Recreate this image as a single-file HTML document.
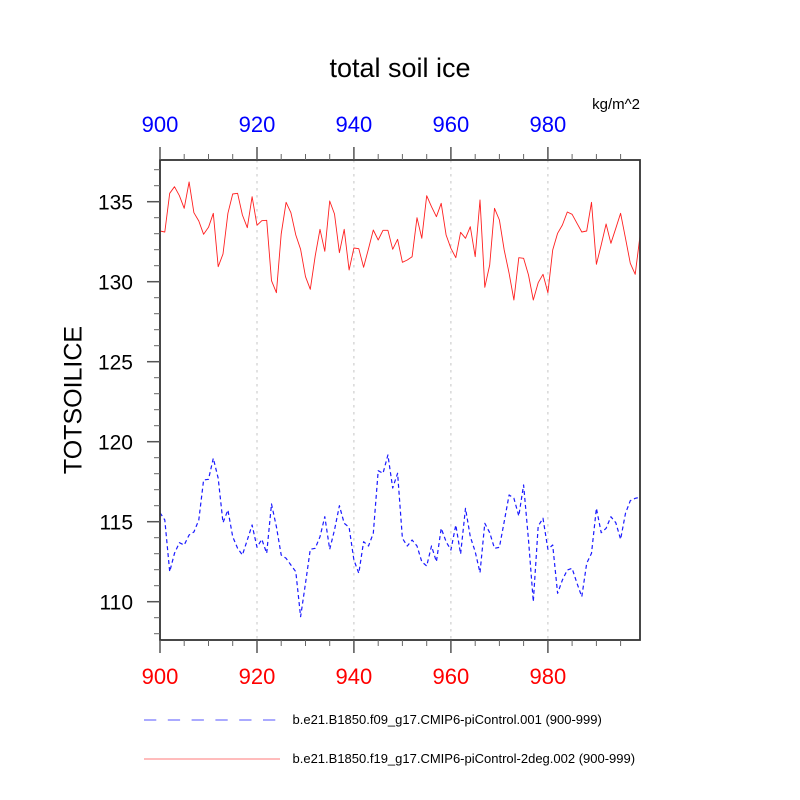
<!DOCTYPE html>
<html>
<head>
<meta charset="utf-8">
<style>
  html, body { margin: 0; padding: 0; background: #fff; }
  svg { display: block; }
  text { font-family: "Liberation Sans", sans-serif; }
</style>
</head>
<body>
<svg width="800" height="800" viewBox="0 0 800 800" xmlns="http://www.w3.org/2000/svg">
  <rect x="0" y="0" width="800" height="800" fill="#fff"/>

  <!-- Title -->
  <text x="400" y="77" font-size="27" text-anchor="middle" fill="#000">total soil ice</text>
  <text x="640" y="109" font-size="15" text-anchor="end" fill="#000">kg/m^2</text>

  <!-- Grid lines -->
  <g stroke="#c4c4c4" stroke-width="1" stroke-dasharray="2.5 4.5">
    <line x1="257" y1="160" x2="257" y2="640"/>
    <line x1="353.9" y1="160" x2="353.9" y2="640"/>
    <line x1="450.9" y1="160" x2="450.9" y2="640"/>
    <line x1="547.9" y1="160" x2="547.9" y2="640"/>
  </g>

  <!-- Red series -->
  <polyline fill="none" stroke="#ff2020" stroke-width="0.9" stroke-linejoin="round" points="
160,231 164.8,232 169.7,193.3 174.5,186.7 179.4,195.7 184.2,208.3 189.1,182 193.9,212.7 198.8,221 203.6,234.3
208.5,227.3 213.3,213.3 218.2,266.7 223,254 227.9,213.3 232.7,194 237.6,193.3 242.4,215 247.3,227.7 252.1,196.7
257,225.3 261.8,220.7 266.7,220.3 271.5,280.7 276.4,292.7 281.2,234 286.1,202.3 290.9,212.7 295.8,235 300.6,249.3
305.5,276.7 310.3,289.3 315.2,256 320,229.3 324.8,251.3 329.7,201 334.5,214 339.4,252.7 344.2,229.3 349.1,270
353.9,248 358.8,248.7 363.6,267.3 368.5,248.7 373.3,230 378.2,240 383,230.3 387.9,230.3 392.7,249.3 397.6,239.3
402.4,262.3 407.3,260 412.1,256.7 417,217.7 421.8,238.3 426.7,195.7 431.5,206.7 436.4,216.7 441.2,203.3 446.1,235
450.9,248.3 455.8,257.7 460.6,232.3 465.5,238.3 470.3,226.7 475.2,256.7 480,200 484.8,287.3 489.7,265 494.5,208.3
499.4,220 504.2,250 509.1,273.3 513.9,300 518.8,257.7 523.6,258.3 528.5,275 533.3,300 538.2,282.7 543,274.3
547.9,292.7 552.7,250 557.6,233.3 562.4,225 567.3,212 572.1,214.3 577,223.3 581.8,232 586.7,231 591.5,202.3
596.4,264.3 601.2,245 606.1,224 610.9,243.3 615.8,228.3 620.6,213.3 625.5,238.3 630.3,263.3 635.2,274.3 640,236"/>

  <!-- Blue series -->
  <polyline fill="none" stroke="#1a1aff" stroke-width="1.2" stroke-dasharray="4 3" stroke-linejoin="round" points="
160,512.7 164.8,520 169.7,571.7 174.5,553.3 179.4,542.7 184.2,545 189.1,535 193.9,532 198.8,520 203.6,480
208.5,479.3 213.3,458.3 218.2,478.3 223,522.7 227.9,510 232.7,536.7 237.6,548.3 242.4,555 247.3,540 252.1,525
257,547.3 261.8,539.3 266.7,553.3 271.5,504 276.4,526.7 281.2,555 286.1,558.3 290.9,565 295.8,571.7 300.6,616.7
305.5,583.3 310.3,549.3 315.2,548.3 320,536.7 324.8,516.7 329.7,549.3 334.5,530 339.4,505.7 344.2,523.3 349.1,527.3
353.9,560 358.8,573.3 363.6,541.7 368.5,546 373.3,533.3 378.2,470.7 383,473.3 387.9,455 392.7,488 397.6,473.3
402.4,538.3 407.3,546 412.1,540 417,546 421.8,561.7 426.7,566 431.5,546 436.4,561.7 441.2,528.3 446.1,541.7
450.9,550 455.8,525 460.6,554 465.5,508.3 470.3,536.7 475.2,551.7 480,572.7 484.8,523.3 489.7,532.7 494.5,548.3
499.4,547.3 504.2,521.7 509.1,495 513.9,498.3 518.8,516 523.6,485 528.5,540 533.3,601.7 538.2,526 543,518.3
547.9,549.3 552.7,545 557.6,593.3 562.4,580 567.3,570 572.1,568.3 577,583.3 581.8,596.7 586.7,563.3 591.5,553.3
596.4,508.3 601.2,532.7 606.1,528.3 610.9,516.7 615.8,522.7 620.6,539.3 625.5,513.3 630.3,500.7 635.2,498.3 640,497.3"/>

  <!-- Axes frame -->
  <rect x="160" y="160" width="480" height="480" fill="none" stroke="#333" stroke-width="1.8"/>

  <!-- Top ticks -->
  <g stroke="#555" stroke-width="1.5">
    <line x1="160" y1="160" x2="160" y2="147"/>
    <line x1="257" y1="160" x2="257" y2="147"/>
    <line x1="353.9" y1="160" x2="353.9" y2="147"/>
    <line x1="450.9" y1="160" x2="450.9" y2="147"/>
    <line x1="547.9" y1="160" x2="547.9" y2="147"/>
  </g>
  <g stroke="#666" stroke-width="1">
    <line x1="184.2" y1="160" x2="184.2" y2="154"/>
    <line x1="208.5" y1="160" x2="208.5" y2="154"/>
    <line x1="232.7" y1="160" x2="232.7" y2="154"/>
    <line x1="281.2" y1="160" x2="281.2" y2="154"/>
    <line x1="305.5" y1="160" x2="305.5" y2="154"/>
    <line x1="329.7" y1="160" x2="329.7" y2="154"/>
    <line x1="378.2" y1="160" x2="378.2" y2="154"/>
    <line x1="402.4" y1="160" x2="402.4" y2="154"/>
    <line x1="426.7" y1="160" x2="426.7" y2="154"/>
    <line x1="475.2" y1="160" x2="475.2" y2="154"/>
    <line x1="499.4" y1="160" x2="499.4" y2="154"/>
    <line x1="523.6" y1="160" x2="523.6" y2="154"/>
    <line x1="572.1" y1="160" x2="572.1" y2="154"/>
    <line x1="596.4" y1="160" x2="596.4" y2="154"/>
    <line x1="620.6" y1="160" x2="620.6" y2="154"/>
  </g>

  <!-- Bottom ticks -->
  <g stroke="#555" stroke-width="1.5">
    <line x1="160" y1="640" x2="160" y2="653"/>
    <line x1="257" y1="640" x2="257" y2="653"/>
    <line x1="353.9" y1="640" x2="353.9" y2="653"/>
    <line x1="450.9" y1="640" x2="450.9" y2="653"/>
    <line x1="547.9" y1="640" x2="547.9" y2="653"/>
  </g>
  <g stroke="#666" stroke-width="1">
    <line x1="184.2" y1="640" x2="184.2" y2="646"/>
    <line x1="208.5" y1="640" x2="208.5" y2="646"/>
    <line x1="232.7" y1="640" x2="232.7" y2="646"/>
    <line x1="281.2" y1="640" x2="281.2" y2="646"/>
    <line x1="305.5" y1="640" x2="305.5" y2="646"/>
    <line x1="329.7" y1="640" x2="329.7" y2="646"/>
    <line x1="378.2" y1="640" x2="378.2" y2="646"/>
    <line x1="402.4" y1="640" x2="402.4" y2="646"/>
    <line x1="426.7" y1="640" x2="426.7" y2="646"/>
    <line x1="475.2" y1="640" x2="475.2" y2="646"/>
    <line x1="499.4" y1="640" x2="499.4" y2="646"/>
    <line x1="523.6" y1="640" x2="523.6" y2="646"/>
    <line x1="572.1" y1="640" x2="572.1" y2="646"/>
    <line x1="596.4" y1="640" x2="596.4" y2="646"/>
    <line x1="620.6" y1="640" x2="620.6" y2="646"/>
  </g>

  <!-- Left ticks: major -->
  <g stroke="#555" stroke-width="1.5">
    <line x1="160" y1="201.7" x2="147" y2="201.7"/>
    <line x1="160" y1="281.7" x2="147" y2="281.7"/>
    <line x1="160" y1="361.7" x2="147" y2="361.7"/>
    <line x1="160" y1="441.7" x2="147" y2="441.7"/>
    <line x1="160" y1="521.7" x2="147" y2="521.7"/>
    <line x1="160" y1="601.7" x2="147" y2="601.7"/>
  </g>
  <!-- Left ticks: minor -->
  <g stroke="#666" stroke-width="1">
    <line x1="160" y1="169.7" x2="154" y2="169.7"/>
    <line x1="160" y1="185.7" x2="154" y2="185.7"/>
    <line x1="160" y1="217.7" x2="154" y2="217.7"/>
    <line x1="160" y1="233.7" x2="154" y2="233.7"/>
    <line x1="160" y1="249.7" x2="154" y2="249.7"/>
    <line x1="160" y1="265.7" x2="154" y2="265.7"/>
    <line x1="160" y1="297.7" x2="154" y2="297.7"/>
    <line x1="160" y1="313.7" x2="154" y2="313.7"/>
    <line x1="160" y1="329.7" x2="154" y2="329.7"/>
    <line x1="160" y1="345.7" x2="154" y2="345.7"/>
    <line x1="160" y1="377.7" x2="154" y2="377.7"/>
    <line x1="160" y1="393.7" x2="154" y2="393.7"/>
    <line x1="160" y1="409.7" x2="154" y2="409.7"/>
    <line x1="160" y1="425.7" x2="154" y2="425.7"/>
    <line x1="160" y1="457.7" x2="154" y2="457.7"/>
    <line x1="160" y1="473.7" x2="154" y2="473.7"/>
    <line x1="160" y1="489.7" x2="154" y2="489.7"/>
    <line x1="160" y1="505.7" x2="154" y2="505.7"/>
    <line x1="160" y1="537.7" x2="154" y2="537.7"/>
    <line x1="160" y1="553.7" x2="154" y2="553.7"/>
    <line x1="160" y1="569.7" x2="154" y2="569.7"/>
    <line x1="160" y1="585.7" x2="154" y2="585.7"/>
    <line x1="160" y1="617.7" x2="154" y2="617.7"/>
    <line x1="160" y1="633.7" x2="154" y2="633.7"/>
  </g>

  <!-- Y labels -->
  <g font-size="21" text-anchor="end" fill="#000">
    <text x="133" y="209.5">135</text>
    <text x="133" y="289.5">130</text>
    <text x="133" y="369.5">125</text>
    <text x="133" y="449.5">120</text>
    <text x="133" y="529.5">115</text>
    <text x="133" y="609.5">110</text>
  </g>

  <!-- Y axis title -->
  <text x="0" y="0" font-size="25" text-anchor="middle" fill="#000" transform="translate(81.5,400) rotate(-90)">TOTSOILICE</text>

  <!-- Top labels (blue) -->
  <g font-size="22" text-anchor="middle" fill="#0000ff">
    <text x="160" y="132">900</text>
    <text x="257" y="132">920</text>
    <text x="353.9" y="132">940</text>
    <text x="450.9" y="132">960</text>
    <text x="547.9" y="132">980</text>
  </g>

  <!-- Bottom labels (red) -->
  <g font-size="22" text-anchor="middle" fill="#ff0000">
    <text x="160" y="684">900</text>
    <text x="257" y="684">920</text>
    <text x="353.9" y="684">940</text>
    <text x="450.9" y="684">960</text>
    <text x="547.9" y="684">980</text>
  </g>

  <!-- Legend -->
  <line x1="144" y1="720" x2="276" y2="720" stroke="#7878ff" stroke-width="1.2" stroke-dasharray="12.3 11.5"/>
  <line x1="144" y1="759" x2="280" y2="759" stroke="#ff7878" stroke-width="1"/>
  <g font-size="13" fill="#000">
    <text x="292.5" y="724">b.e21.B1850.f09_g17.CMIP6-piControl.001 (900-999)</text>
    <text x="292.5" y="763">b.e21.B1850.f19_g17.CMIP6-piControl-2deg.002 (900-999)</text>
  </g>
</svg>
</body>
</html>
